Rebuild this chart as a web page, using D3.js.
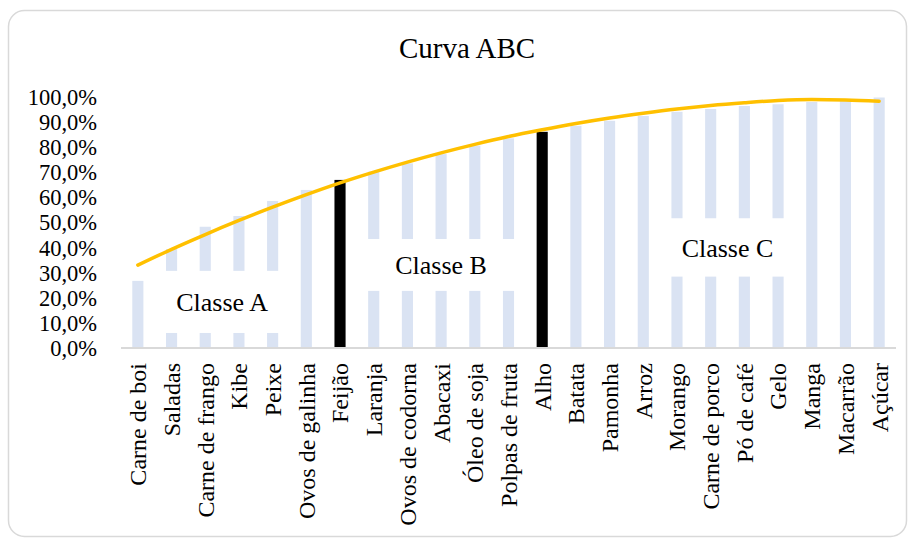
<!DOCTYPE html>
<html lang="pt">
  <head>
    <meta charset="UTF-8" />
    <title>Curva ABC</title>
    <script src="https://d3js.org/d3.v7.min.js"></script>
    <style>
      body {
        margin: 0;
        background: #fff;
      }
      svg text {
        font-family: 'Liberation Serif', 'Times New Roman', serif;
        fill: #000;
      }
      .domain {
        stroke: #d9d9d9;
        stroke-width: 2px;
      }
    </style>
  </head>
  <body>
    <div id="chart"></div>
    <script>
      // dados
      const categories = [
        'Carne de boi', 'Saladas', 'Carne de frango', 'Kibe', 'Peixe',
        'Ovos de galinha', 'Feijão', 'Laranja', 'Ovos de codorna', 'Abacaxi',
        'Óleo de soja', 'Polpas de fruta', 'Alho', 'Batata', 'Pamonha',
        'Arroz', 'Morango', 'Carne de porco', 'Pó de café', 'Gelo',
        'Manga', 'Macarrão', 'Açúcar'
      ];
      // % acumulada (barras)
      const cumulativePct = [
        26.8, 39.5, 48.4, 52.7, 58.7, 63.1, 67.1, 70.4, 73.7, 77.4,
        80.8, 83.7, 86.3, 88.7, 90.7, 92.6, 94.3, 95.4, 96.6, 97.3,
        98.2, 98.8, 100.0
      ];
      // linha de tendência (curva ABC)
      const trendPct = [
        33.1, 39.4, 45.3, 50.9, 56.2, 61.2, 65.9, 70.2, 74.2, 77.9,
        81.3, 84.4, 87.1, 89.6, 91.8, 93.7, 95.4, 96.8, 97.9, 98.8,
        99.2, 99.0, 98.5
      ];
      const highlighted = ['Feijão', 'Alho'];
      const yTicks = [0, 10, 20, 30, 40, 50, 60, 70, 80, 90, 100];

      // caixas de texto das classes (de/até categoria, faixa em %)
      const classLabels = ['Classe A', 'Classe B', 'Classe C'];
      const classFrom = ['Saladas', 'Laranja', 'Morango'];
      const classTo = ['Peixe', 'Polpas de fruta', 'Gelo'];
      const classLow = [6.0, 22.8, 28.5];
      const classHigh = [30.8, 43.5, 51.8];

      const W = 912;
      const H = 538;

      const svg = d3
        .select('#chart')
        .append('svg')
        .attr('width', W)
        .attr('height', H);

      svg
        .append('rect')
        .attr('x', 8.5)
        .attr('y', 10.5)
        .attr('width', 898)
        .attr('height', 526)
        .attr('rx', 16)
        .attr('fill', '#fff')
        .attr('stroke', '#d9d9d9')
        .attr('stroke-width', 1.5);

      svg
        .append('text')
        .attr('x', 467)
        .attr('y', 57.5)
        .attr('text-anchor', 'middle')
        .style('font-size', '29px')
        .text('Curva ABC');

      const x = d3
        .scaleBand()
        .domain(categories)
        .range([121, 896])
        .paddingInner(0.67)
        .paddingOuter(0.335);

      const y = d3.scaleLinear().domain([0, 100]).range([348, 97.5]);

      const cx = (c) => x(c) + x.bandwidth() / 2;

      // barras
      svg
        .append('g')
        .selectAll('rect')
        .data(categories)
        .join('rect')
        .attr('x', (c) => x(c))
        .attr('width', x.bandwidth())
        .attr('y', (c, i) => y(cumulativePct[i]))
        .attr('height', (c, i) => y(0) - y(cumulativePct[i]))
        .attr('fill', (c) => (highlighted.includes(c) ? '#000' : '#dae3f3'));

      // eixo y
      const yAxis = svg
        .append('g')
        .attr('transform', 'translate(121,0)')
        .call(
          d3
            .axisLeft(y)
            .tickValues(yTicks)
            .tickSize(0)
            .tickPadding(24)
            .tickFormat((d) => d.toFixed(1).replace('.', ',') + '%')
        );
      yAxis.select('.domain').remove();
      yAxis.selectAll('text').style('font-size', '22.5px');

      // eixo x
      const xAxis = svg
        .append('g')
        .attr('transform', `translate(0,${y(0)})`)
        .call(d3.axisBottom(x).tickSize(0));
      xAxis.select('.domain').attr('d', 'M121,0H896');
      xAxis
        .selectAll('text')
        .attr('transform', 'rotate(-90)')
        .attr('x', -15)
        .attr('y', 0)
        .attr('dy', '0.35em')
        .style('text-anchor', 'end')
        .style('font-size', '24px');

      // caixas das classes
      const boxes = svg
        .append('g')
        .selectAll('g')
        .data(classLabels)
        .join('g');
      boxes
        .append('rect')
        .attr('x', (d, i) => x(classFrom[i]) - 10)
        .attr('width', (d, i) => x(classTo[i]) + x.bandwidth() + 10 - x(classFrom[i]) + 10)
        .attr('y', (d, i) => y(classHigh[i]))
        .attr('height', (d, i) => y(classLow[i]) - y(classHigh[i]))
        .attr('fill', '#fff');
      boxes
        .append('text')
        .attr('x', (d, i) => (cx(classFrom[i]) + cx(classTo[i])) / 2)
        .attr('y', (d, i) => (y(classLow[i]) + y(classHigh[i])) / 2)
        .attr('dy', '0.35em')
        .attr('text-anchor', 'middle')
        .style('font-size', '26px')
        .text((d) => d);

      // linha de tendência
      const line = d3
        .line()
        .x((d, i) => cx(categories[i]))
        .y((d) => y(d))
        .curve(d3.curveMonotoneX);

      svg
        .append('path')
        .datum(trendPct)
        .attr('d', line)
        .attr('fill', 'none')
        .attr('stroke', '#ffc000')
        .attr('stroke-width', 3.5)
        .attr('stroke-linecap', 'round');
    </script>
  </body>
</html>
